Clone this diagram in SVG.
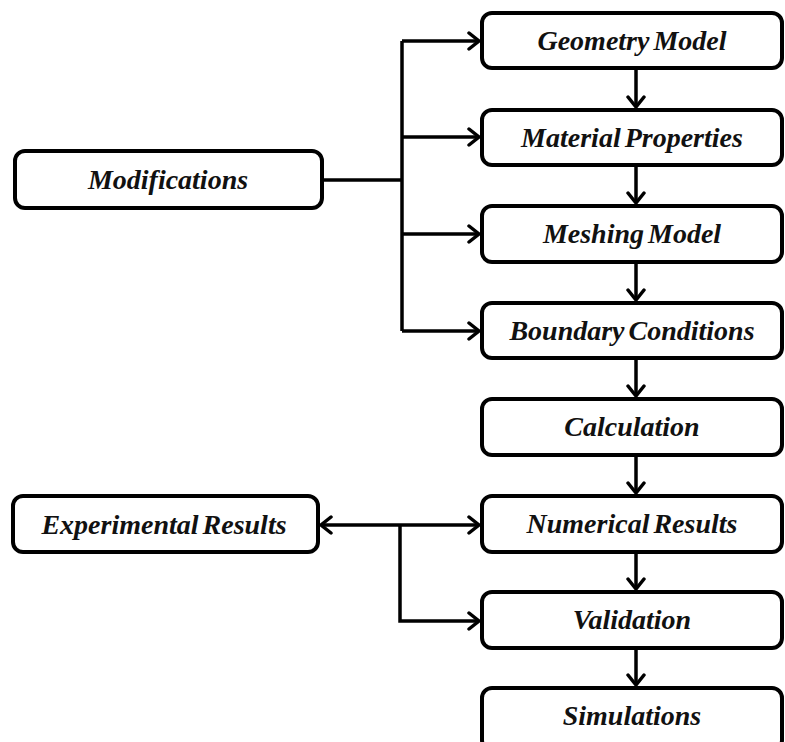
<svg xmlns="http://www.w3.org/2000/svg" width="785" height="742" viewBox="0 0 785 742">
<style>
.box{fill:#fff;stroke:#000;stroke-width:4}
.lbl{font-family:'Times New Roman','Liberation Serif',Tinos,serif;font-weight:700;font-style:italic;font-size:28px;word-spacing:-3px;fill:#111;text-anchor:middle}
.ln{fill:none;stroke:#000;stroke-width:3.5}
</style>
<defs>
<marker id="ah" markerUnits="userSpaceOnUse" markerWidth="20" markerHeight="20" viewBox="-12 -10 14 20" refX="0" refY="0" orient="auto-start-reverse">
<path d="M-10,-8 L0,0 L-10,8" fill="none" stroke="#000" stroke-width="3.5" stroke-linecap="round" stroke-linejoin="miter"/>
</marker>
</defs>
<g id="connectors">
<path class="ln" d="M322,180 H402"/>
<path class="ln" d="M402,41 V331"/>
<path class="ln" d="M402,41 H479" marker-end="url(#ah)"/>
<path class="ln" d="M402,137 H479" marker-end="url(#ah)"/>
<path class="ln" d="M402,234 H479" marker-end="url(#ah)"/>
<path class="ln" d="M402,331 H479" marker-end="url(#ah)"/>
<path class="ln" d="M636,70 V107" marker-end="url(#ah)"/>
<path class="ln" d="M636,167 V203" marker-end="url(#ah)"/>
<path class="ln" d="M636,264 V300" marker-end="url(#ah)"/>
<path class="ln" d="M636,360 V396" marker-end="url(#ah)"/>
<path class="ln" d="M636,457 V493" marker-end="url(#ah)"/>
<path class="ln" d="M636,553 V589" marker-end="url(#ah)"/>
<path class="ln" d="M636,650 V685" marker-end="url(#ah)"/>
<path class="ln" d="M321,525 H479" marker-start="url(#ah)" marker-end="url(#ah)"/>
<path class="ln" d="M400,525 V621 H479" marker-end="url(#ah)"/>
</g>
<g id="modifications"><rect class="box" x="15" y="151" width="307" height="57" rx="10"/><text class="lbl" x="168" y="189">Modifications</text></g>
<g id="experimental"><rect class="box" x="13" y="496" width="305" height="56" rx="10"/><text class="lbl" x="164" y="534">Experimental Results</text></g>
<g id="geometry"><rect class="box" x="482" y="13" width="300" height="55" rx="10"/><text class="lbl" x="632" y="50">Geometry Model</text></g>
<g id="material"><rect class="box" x="482" y="110" width="300" height="55" rx="10"/><text class="lbl" x="632" y="147">Material Properties</text></g>
<g id="meshing"><rect class="box" x="482" y="206" width="300" height="56" rx="10"/><text class="lbl" x="632" y="243">Meshing Model</text></g>
<g id="boundary"><rect class="box" x="482" y="303" width="300" height="55" rx="10"/><text class="lbl" x="632" y="340">Boundary Conditions</text></g>
<g id="calculation"><rect class="box" x="482" y="399" width="300" height="56" rx="10"/><text class="lbl" x="632" y="436">Calculation</text></g>
<g id="numerical"><rect class="box" x="482" y="496" width="300" height="56" rx="10"/><text class="lbl" x="632" y="533">Numerical Results</text></g>
<g id="validation"><rect class="box" x="482" y="592" width="300" height="56" rx="10"/><text class="lbl" x="632" y="629">Validation</text></g>
<g id="simulations"><rect class="box" x="482" y="688" width="300" height="62" rx="10"/><text class="lbl" x="632" y="725">Simulations</text></g>
</svg>
